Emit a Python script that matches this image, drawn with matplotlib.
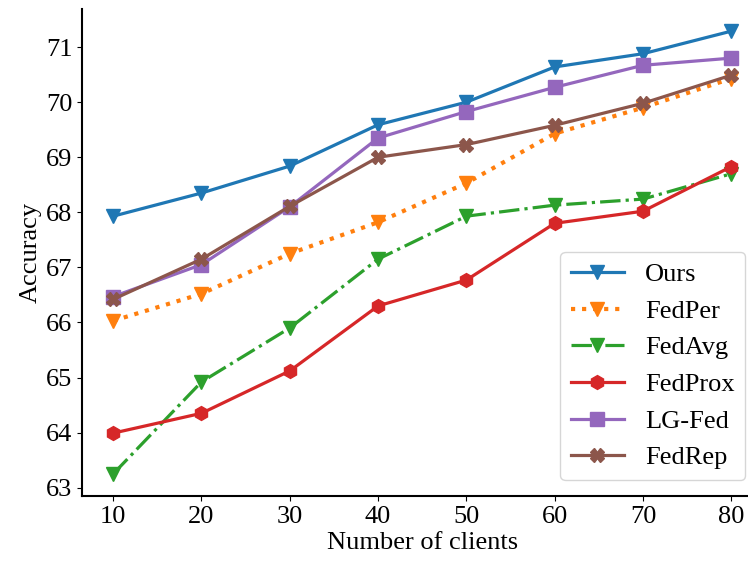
import matplotlib
matplotlib.use('Agg')
import matplotlib.pyplot as plt

clients = [10, 20, 30, 40, 50, 60, 70, 80]

ours = [67.93, 68.35, 68.84, 69.59, 70.00, 70.64, 70.88, 71.29]
fedper = [66.03, 66.52, 67.25, 67.82, 68.53, 69.43, 69.90, 70.43]
fedavg = [63.25, 64.92, 65.90, 67.15, 67.93, 68.13, 68.24, 68.70]
fedprox = [63.99, 64.35, 65.12, 66.30, 66.77, 67.80, 68.02, 68.83]
lgfed = [66.47, 67.05, 68.10, 69.35, 69.83, 70.27, 70.67, 70.80]
fedrep = [66.42, 67.15, 68.11, 69.00, 69.23, 69.58, 69.98, 70.49]

plt.rcParams['font.family'] = ['Liberation Serif', 'DejaVu Serif']
plt.rcParams['font.size'] = 19

fig = plt.figure(figsize=(7.48, 5.63), dpi=100)
ax = fig.add_axes([0.11, 0.119, 0.909, 0.865])

lw = 2.3
ms = 10
ax.plot(clients, ours, color='#1f77b4', marker='v', lw=lw, ms=ms, label='Ours')
ax.plot(clients, fedper, color='#ff7f0e', marker='v', ls=':', lw=lw + 0.7, ms=ms, label='FedPer')
ax.plot(clients, fedavg, color='#2ca02c', marker='v', ls='-.', lw=lw, ms=ms, label='FedAvg')
ax.plot(clients, fedprox, color='#d62728', marker='h', lw=lw, ms=ms, label='FedProx')
ax.plot(clients, lgfed, color='#9467bd', marker='s', lw=lw, ms=ms, label='LG-Fed')
ax.plot(clients, fedrep, color='#8c564b', marker='X', lw=lw, ms=ms, label='FedRep')

ax.spines['top'].set_visible(False)
ax.spines['right'].set_visible(False)
ax.spines['left'].set_linewidth(1.5)
ax.spines['bottom'].set_linewidth(1.5)
ax.set_xticks(clients)
ax.set_yticks([63, 64, 65, 66, 67, 68, 69, 70, 71])
ax.set_xlabel('Number of clients', labelpad=3)
ax.set_ylabel('Accuracy', labelpad=3)

ax.legend(loc='lower right', bbox_to_anchor=(745 / 748, 1 - 480 / 563),
          bbox_transform=fig.transFigure, borderaxespad=0, fontsize=19)

fig.savefig('out.png', dpi=100)
